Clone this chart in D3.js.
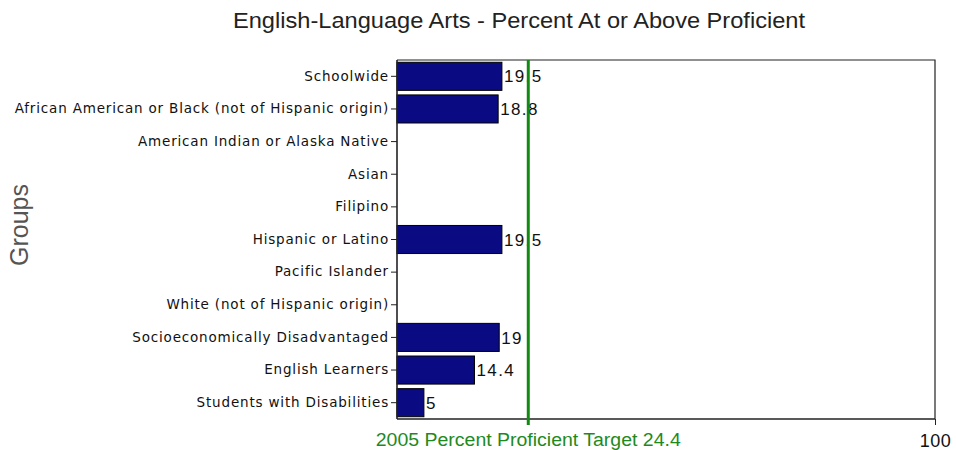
<!DOCTYPE html>
<html><head><meta charset="utf-8">
<script src="https://cdn.jsdelivr.net/npm/d3@7"></script>
<style>body{margin:0;background:#fff}svg{display:block}</style>
</head><body>
<svg id="c" width="956" height="450"></svg>
<script>
const categories = ["Schoolwide","African American or Black (not of Hispanic origin)","American Indian or Alaska Native","Asian","Filipino","Hispanic or Latino","Pacific Islander","White (not of Hispanic origin)","Socioeconomically Disadvantaged","English Learners","Students with Disabilities"];
const values = [19.5, 18.8, null, null, null, 19.5, null, null, 19, 14.4, 5];
const valueLabels = ["19.5","18.8","","","","19.5","","","19","14.4","5"];
const target = 24.4;
const targetLabel = "2005 Percent Proficient Target 24.4";
const xMaxLabel = "100";

const svg = d3.select("#c");
const L = 397, R = 935, T = 60, B = 419;
const x = d3.scaleLinear().domain([0,100]).range([L,R]);
const y = d3.scaleBand().domain(categories).range([T,B]).paddingInner(0.14).paddingOuter(0.07);

svg.append("text").attr("x",519).attr("y",28).attr("text-anchor","middle")
  .attr("font-family","Liberation Sans, Arial, sans-serif").attr("font-size",22).attr("fill","#222")
  .attr("textLength",572).attr("lengthAdjust","spacingAndGlyphs")
  .text("English-Language Arts - Percent At or Above Proficient");

svg.append("text").attr("transform","translate(28,225) rotate(-90)").attr("text-anchor","middle")
  .attr("font-family","Liberation Sans, Arial, sans-serif").attr("font-size",25).attr("fill","#555")
  .text("Groups");

// frame top & right
svg.append("path").attr("d",`M${L},${T}H${R}V${B}`).attr("fill","none").attr("stroke","#222").attr("stroke-width",1.2);

const data = categories.map((c,i)=>({c,v:values[i],lab:valueLabels[i]}));
svg.selectAll("rect.bar").data(data.filter(d=>d.v!=null)).join("rect").attr("class","bar")
  .attr("x",x(0)).attr("y",d=>y(d.c)).attr("width",d=>x(d.v)-x(0)).attr("height",y.bandwidth())
  .attr("fill","#0a0a82").attr("stroke","#000").attr("stroke-width",1);

svg.selectAll("text.val").data(data.filter(d=>d.v!=null)).join("text").attr("class","val")
  .attr("x",d=>x(d.v)+2).attr("y",d=>y(d.c)+y.bandwidth()/2).attr("dy","0.36em")
  .attr("font-family","Liberation Sans, Arial, sans-serif").attr("font-size",17).attr("letter-spacing",1.4).attr("fill","#111")
  .text(d=>d.lab);

// y axis
const ya = svg.append("g").attr("transform",`translate(${L},0)`).call(d3.axisLeft(y).tickSize(6).tickPadding(2));
ya.select(".domain").attr("stroke","#222").attr("stroke-width",1.6).attr("d",`M0,${T}V${B}`);
ya.selectAll(".tick line").attr("stroke","#222");
ya.selectAll(".tick text").attr("font-family","DejaVu Sans, Verdana, sans-serif").attr("font-size",13.5).attr("letter-spacing",0.82).attr("fill","#111");

// x axis
const xa = svg.append("g").attr("transform",`translate(0,${B})`).call(d3.axisBottom(x).tickValues([100]).tickSize(6).tickFormat(()=>xMaxLabel).tickPadding(9));
xa.select(".domain").attr("stroke","#222").attr("stroke-width",1.6).attr("d",`M${L},0H${R}`);
xa.selectAll(".tick line").attr("stroke","#222");
xa.selectAll(".tick text").attr("font-family","Liberation Sans, Arial, sans-serif").attr("font-size",18).attr("letter-spacing",0.5).attr("fill","#111");

// target line
svg.append("line").attr("x1",x(target)).attr("x2",x(target)).attr("y1",T).attr("y2",B+6)
  .attr("stroke","#108a10").attr("stroke-width",3);
svg.append("text").attr("x",x(target)).attr("y",B+27).attr("text-anchor","middle")
  .attr("font-family","Liberation Sans, Arial, sans-serif").attr("font-size",18).attr("fill","#1e8a1e")
  .attr("textLength",305).attr("lengthAdjust","spacingAndGlyphs")
  .text(targetLabel);
</script>
</body></html>
